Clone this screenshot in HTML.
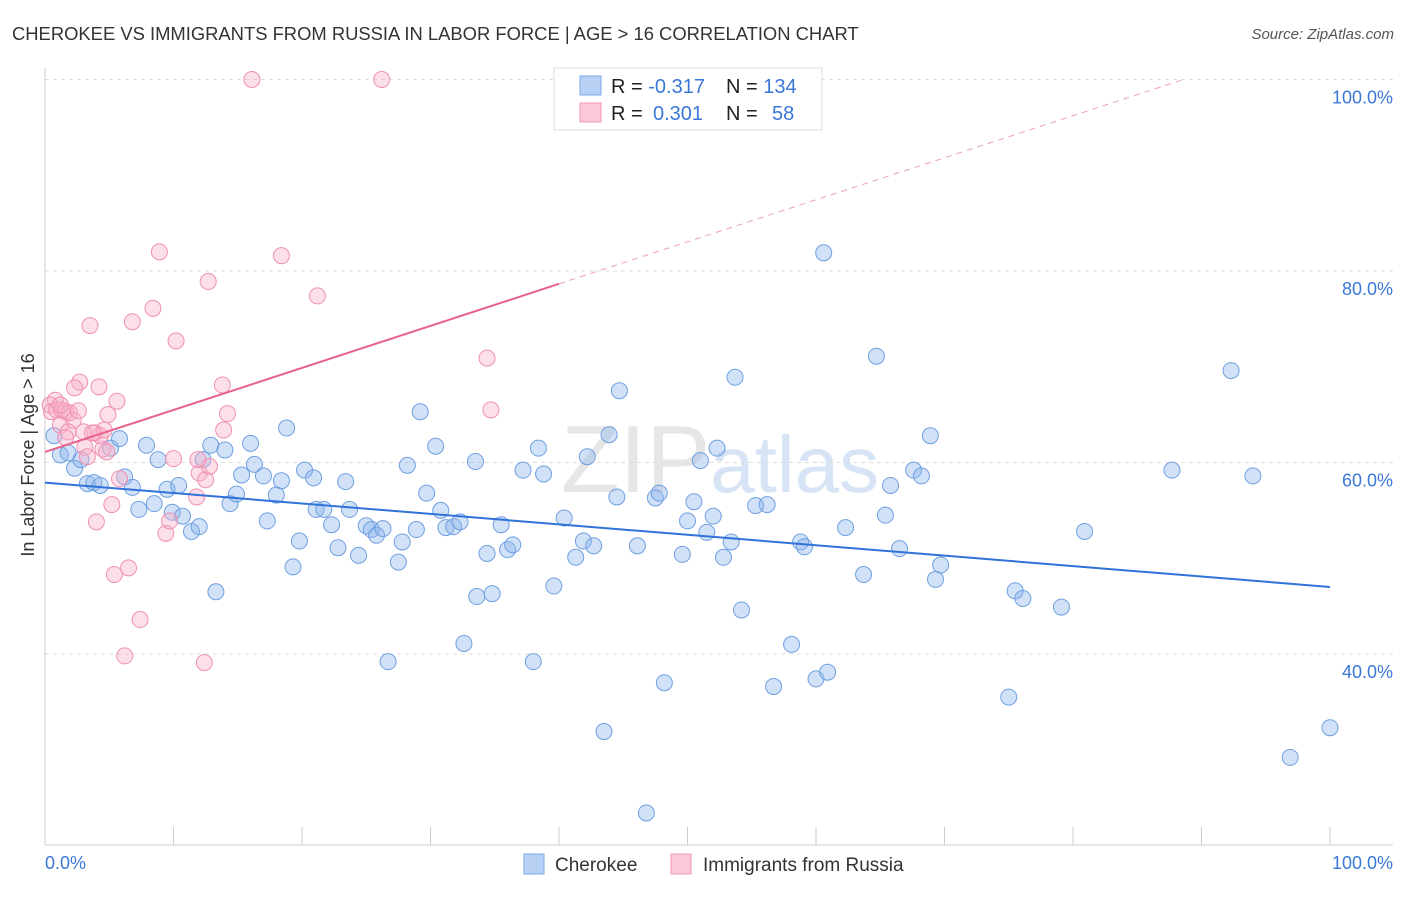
<!DOCTYPE html>
<html><head><meta charset="utf-8"><style>
body{margin:0;background:#fff;font-family:"Liberation Sans",sans-serif}
svg text{font-family:"Liberation Sans",sans-serif}
</style></head><body>
<svg id="c" width="1406" height="892">
<text x="12" y="40" font-size="18.4" fill="#333">CHEROKEE VS IMMIGRANTS FROM RUSSIA IN LABOR FORCE | AGE &gt; 16 CORRELATION CHART</text>
<text x="1394" y="39" font-size="15" fill="#555" font-style="italic" text-anchor="end">Source: ZipAtlas.com</text>
<text x="720" y="492" font-size="96" fill="#e6e6e6" text-anchor="middle" font-family="Liberation Serif">ZIP<tspan fill="#d6e4f5" font-family="Liberation Sans" font-size="80">atlas</tspan></text>
<g id="grid"></g><g id="dots"></g><g id="lines"></g>
<text transform="translate(34,455) rotate(-90)" font-size="18" fill="#333" text-anchor="middle">In Labor Force | Age &gt; 16</text>
<text x="45" y="869" font-size="18" fill="#3a78d8">0.0%</text>
<text x="1393" y="869" font-size="18" fill="#3a78d8" text-anchor="end">100.0%</text>
<g>
<rect x="554" y="68" width="268" height="62" fill="#fff" stroke="#ddd"/>
<rect x="580" y="76" width="21" height="19" fill="#b7d0f3" stroke="#7aaae8"/>
<rect x="580" y="103" width="21" height="19" fill="#fbc8d7" stroke="#f19ab8"/>
<text x="611" y="93" font-size="20" fill="#222">R = <tspan fill="#3a78d8">-0.317</tspan><tspan x="726">N = </tspan><tspan fill="#3a78d8">134</tspan></text>
<text x="611" y="120" font-size="20" fill="#222">R = <tspan fill="#3a78d8" x="653">0.301</tspan><tspan x="726">N = </tspan><tspan fill="#3a78d8" x="772">58</tspan></text>
</g>
<g>
<rect x="524" y="854" width="20" height="20" fill="#b7d0f3" stroke="#7aaae8"/>
<text x="555" y="871" font-size="19" fill="#333">Cherokee</text>
<rect x="671" y="854" width="20" height="20" fill="#fbc8d7" stroke="#f19ab8"/>
<text x="703" y="871" font-size="19" fill="#333">Immigrants from Russia</text>
</g>
</svg>
<script>
const yTicks=[40,60,80,100];
const xTicks=[0,10,20,30,40,50,60,70,80,90,100];
const blueX=[0.7,1.2,1.8,2.3,2.8,3.3,3.8,4.3,5.1,5.8,6.2,6.8,7.3,7.9,8.5,8.8,9.5,9.9,10.4,10.7,11.4,12.0,12.3,12.9,13.3,14.0,14.4,14.9,15.3,16.0,16.3,17.0,17.3,18.0,18.4,18.8,19.3,19.8,20.2,20.9,21.1,21.7,22.3,22.8,23.4,23.7,24.4,25.0,25.4,25.8,26.3,26.7,27.5,27.8,28.2,28.9,29.2,29.7,30.4,30.8,31.2,31.8,32.3,32.6,33.5,33.6,34.4,34.8,35.5,36.0,36.4,37.2,38.0,38.4,38.8,39.6,40.4,41.3,41.9,42.2,42.7,43.5,43.9,44.5,44.7,46.1,46.8,47.5,47.8,48.2,49.6,50.0,50.5,51.0,51.5,52.0,52.3,52.8,53.4,53.7,54.2,55.3,56.2,56.7,58.1,58.8,59.1,60.0,60.6,60.9,62.3,63.7,64.7,65.4,65.8,66.5,67.6,68.2,68.9,69.3,69.7,75.0,75.5,76.1,79.1,80.9,87.7,92.3,94.0,96.9,100];
const blueY=[62.8,60.8,61.0,59.4,60.3,57.8,57.9,57.6,61.5,62.5,58.5,57.4,55.1,61.8,55.7,60.3,57.2,54.8,57.6,54.4,52.8,53.3,60.3,61.8,46.5,61.3,55.7,56.7,58.7,62.0,59.8,58.6,53.9,56.6,58.1,63.6,49.1,51.8,59.2,58.4,55.1,55.1,53.5,51.1,58.0,55.1,50.3,53.4,53.0,52.4,53.1,39.2,49.6,51.7,59.7,53.0,65.3,56.8,61.7,55.0,53.2,53.3,53.8,41.1,60.1,46.0,50.5,46.3,53.5,50.9,51.4,59.2,39.2,61.5,58.8,47.1,54.2,50.1,51.8,60.6,51.3,31.9,62.9,56.4,67.5,51.3,23.4,56.3,56.8,37.0,50.4,53.9,55.9,60.2,52.7,54.4,61.5,50.1,51.7,68.9,44.6,55.5,55.6,36.6,41.0,51.7,51.2,37.4,81.9,38.1,53.2,48.3,71.1,54.5,57.6,51.0,59.2,58.6,62.8,47.8,49.3,35.5,46.6,45.8,44.9,52.8,59.2,69.6,58.6,29.2,32.3];
const pinkX=[0.8,0.4,0.5,0.9,1.3,1.6,1.9,2.2,1.2,2.6,3.1,2.7,2.3,3.5,3.9,4.2,4.0,4.5,4.9,5.2,5.4,5.6,5.8,6.2,6.5,6.8,7.4,8.4,8.9,9.4,9.7,10.0,10.2,11.8,12.0,12.5,12.7,12.4,12.8,13.8,13.9,14.2,16.1,18.4,21.2,26.2,34.4,34.7,1.8,3.0,4.3,4.6,4.8,11.9,3.7,3.3,1.2,1.6];
const pinkY=[66.5,66.0,65.3,65.5,65.5,65.3,65.2,64.4,63.9,65.4,61.6,68.4,67.8,74.3,63.1,67.9,53.8,61.4,65.0,55.6,48.3,66.4,58.3,39.8,49.0,74.7,43.6,76.1,82.0,52.6,53.9,60.4,72.7,56.4,58.9,58.2,78.9,39.1,59.6,68.1,63.4,65.1,100,81.6,77.4,100,70.9,65.5,63.2,63.2,62.8,63.4,61.1,60.3,63.1,60.6,66.0,62.6];
const blueFit=[57.9,47.0]; // y at x=0 and x=100
const pinkFit=[61.1,0.439]; // intercept, slope
const X0=45,X1=1330,YTOP=79.5,YB=845;
const sx=v=>X0+(X1-X0)*v/100;
const sy=v=>YTOP+(100-v)*9.575;
const NS='http://www.w3.org/2000/svg';
function mk(t,a,p){const e=document.createElementNS(NS,t);for(const k in a)e.setAttribute(k,a[k]);p.appendChild(e);return e;}
const g=document.getElementById('grid');
yTicks.forEach(t=>{
 const l=mk('line',{x1:X0,x2:1393,y1:sy(t),y2:sy(t),stroke:'#ddd','stroke-dasharray':'4,4'},g);
 
 
 const tx=mk('text',{x:1393,y:sy(t)+24,'font-size':18,fill:'#3a78d8','text-anchor':'end'},g);
 tx.textContent=t.toFixed(1)+'%';
 
 
});
mk('line',{x1:X0,x2:X0,y1:68,y2:YB,stroke:'#ccc'},g);
mk('line',{x1:X0,x2:1393,y1:YB,y2:YB,stroke:'#ccc'},g);
xTicks.forEach(t=>{
 const l=mk('line',{x1:sx(t),x2:sx(t),y1:YB,y2:YB-18,stroke:'#ccc'},g);
 
 
});
const d=document.getElementById('dots');
blueX.forEach((x,i)=>{
 const c=mk('circle',{cx:sx(x),cy:sy(blueY[i]),r:8,fill:'rgba(140,180,235,0.4)',stroke:'#6fa0e2','stroke-width':1},d);
 
 
});
pinkX.forEach((x,i)=>{
 const c=mk('circle',{cx:sx(x),cy:sy(pinkY[i]),r:8,fill:'rgba(248,175,200,0.4)',stroke:'#f090b2','stroke-width':1},d);
 
 
});
const L=document.getElementById('lines');
const bl=mk('line',{x1:sx(0),y1:sy(blueFit[0]),x2:sx(100),y2:sy(blueFit[1]),stroke:'#2f72d8','stroke-width':2},L);


const pEnd=(100-pinkFit[0])/pinkFit[1];
const pl=mk('line',{x1:sx(0),y1:sy(pinkFit[0]),x2:sx(40),y2:sy(pinkFit[0]+40*pinkFit[1]),stroke:'#e8628e','stroke-width':2},L);


const pd=mk('line',{x1:sx(40),y1:sy(pinkFit[0]+40*pinkFit[1]),x2:sx(pEnd),y2:sy(100),stroke:'#eaa0b8','stroke-width':1,'stroke-dasharray':'6,5'},L);


</script>
</body></html>
